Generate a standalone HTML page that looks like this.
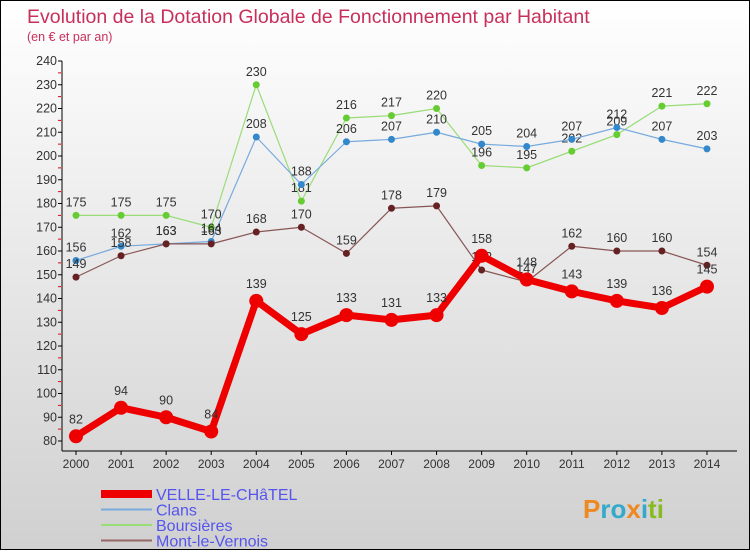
<!DOCTYPE html>
<html><head><meta charset="utf-8"><style>
body{margin:0;}
#c{width:750px;height:550px;position:relative;background:linear-gradient(#ffffff,#ececec 40%,#d0d0d0);border:1px solid #000;box-sizing:border-box;font-family:"Liberation Sans",sans-serif;}
svg text{font-family:"Liberation Sans",sans-serif;}
</style></head><body>
<div id="c">
<svg id="s" width="750" height="550">
<text x="26" y="22" font-size="19.5" fill="#c8305a">Evolution de la Dotation Globale de Fonctionnement par Habitant</text>
<text x="26" y="40" font-size="12.5" fill="#c8305a">(en € et par an)</text>
</svg>
</div>
<script>
const years=[2000,2001,2002,2003,2004,2005,2006,2007,2008,2009,2010,2011,2012,2013,2014];
const velle=[82,94,90,84,139,125,133,131,133,158,148,143,139,136,145];
const clans=[156,162,163,164,208,188,206,207,210,205,204,207,212,207,203];
const boursieres=[175,175,175,170,230,181,216,217,220,196,195,202,209,221,222];
const mont=[149,158,163,163,168,170,159,178,179,152,147,162,160,160,154];
const yTicks=[80,90,100,110,120,130,140,150,160,170,180,190,200,210,220,230,240];
const seriesNames=["VELLE-LE-CHâTEL","Clans","Boursières","Mont-le-Vernois"];
const NS="http://www.w3.org/2000/svg";
const s=document.getElementById('s');
const X=i=>75+i*45.07;
const Y=v=>440-(v-80)*380/160;
function el(t,a,p){const e=document.createElementNS(NS,t);for(const k in a)e.setAttribute(k,a[k]);(p||s).appendChild(e);return e;}
let a=el('line',{x1:61,y1:60,x2:61,y2:450,stroke:'#000'});

a=el('line',{x1:61,y1:450,x2:736,y2:450,stroke:'#000'});

yTicks.forEach((v,i)=>{
 el('line',{x1:57,y1:Y(v),x2:61,y2:Y(v),stroke:'#000'});
 if(i<yTicks.length-1) el('line',{x1:57,y1:Y(v+5),x2:60,y2:Y(v+5),stroke:'#e00'});
 const t=el('text',{x:56,y:Y(v)+4,'font-size':12.5,fill:'#333','text-anchor':'end'});t.textContent=v;
 
});
years.forEach((y,i)=>{
 el('line',{x1:X(i),y1:450,x2:X(i),y2:454,stroke:'#000'});
 const t=el('text',{x:X(i),y:467,'font-size':12,fill:'#333','text-anchor':'middle'});t.textContent=y;
 
});
function series(d,col,dot,w,r,name,fs){
 const g=el('g',{});
 el('polyline',{points:d.map((v,i)=>X(i)+','+Y(v)).join(' '),fill:'none',stroke:col,'stroke-width':w,'stroke-linejoin':'round'},g);
 d.forEach((v,i)=>{
  const c=el('circle',{cx:X(i),cy:Y(v),r:r,fill:dot},g);
  
  const t=el('text',{x:X(i),y:Y(v)-9-(r>4?4:0),'font-size':fs,fill:'#333','text-anchor':'middle'},g);t.textContent=v;
 });
}
series(boursieres,'#99dd77','#66cc33',1.2,3.5,'boursieres-series',12.5);
series(clans,'#77aadd','#3388cc',1.2,3.5,'clans-series',12.5);
series(mont,'#885555','#662222',1.2,3.5,'mont-series',12.5);
series(velle,'#ee0000','#ee0000',7,7,'velle-series',12.5);
const lc=['#ee0000','#77aadd','#99dd77','#996666'],lw=[8,2,2,2];
seriesNames.forEach((n,i)=>{
 const y=493+i*15.5;
 const g=el('g',{});
 el('line',{x1:100,y1:y,x2:151,y2:y,stroke:lc[i],'stroke-width':lw[i]},g);
 const t=el('text',{x:155,y:y+6,'font-size':16,fill:'#5555ee'},g);t.textContent=n;
});
const p=el('text',{x:582,y:517,'font-size':26,'font-weight':'bold',fill:'#33aacc'});

p.innerHTML='<tspan fill="#ee8822">P</tspan><tspan fill="#33aacc">ro</tspan><tspan fill="#ee8822">x</tspan><tspan fill="#33aacc">i</tspan><tspan fill="#88bb22">ti</tspan>';
</script>
</body></html>
